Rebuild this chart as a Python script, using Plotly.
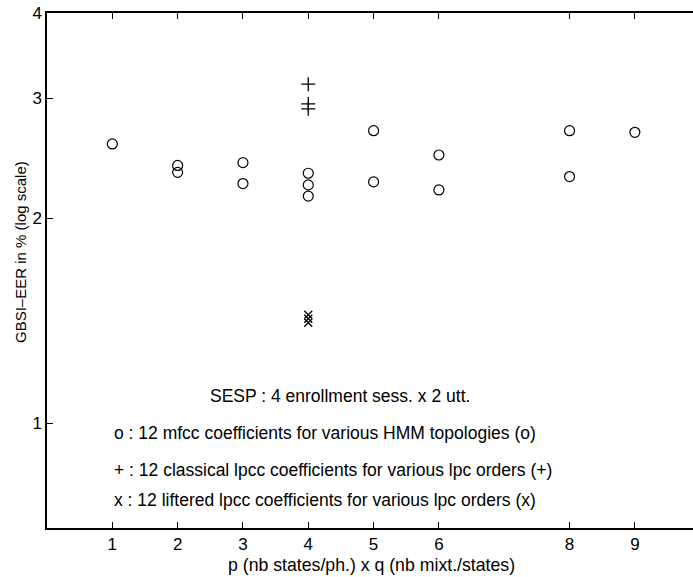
import plotly.graph_objects as go

# Data
x_mfcc = [1, 2, 2, 3, 3, 4, 4, 4, 5, 5, 6, 6, 8, 8, 9]
y_mfcc = [2.57, 2.39, 2.335, 2.413, 2.248, 2.328, 2.238, 2.155,
          2.688, 2.261, 2.476, 2.20, 2.688, 2.302, 2.673]

x_lpcc = [4, 4, 4]
y_lpcc = [3.145, 2.943, 2.894]

x_lift = [4, 4, 4]
y_lift = [1.443, 1.424, 1.405]

x_ticks = [1, 2, 3, 4, 5, 6, 8, 9]
y_ticks = [1, 2, 3, 4]

FONT = "Liberation Sans, Arial, Helvetica, sans-serif"
FS = 17.5

fig = go.Figure()
fig.add_trace(go.Scatter(x=x_mfcc, y=y_mfcc, mode="markers", name="mfcc",
                         marker=dict(symbol="circle-open", size=10, color="black",
                                     line=dict(width=1.2, color="black"))))
fig.add_trace(go.Scatter(x=x_lpcc, y=y_lpcc, mode="markers", name="lpcc",
                         marker=dict(symbol="cross-thin", size=10, color="black",
                                     line=dict(width=1.3, color="black"))))
fig.add_trace(go.Scatter(x=x_lift, y=y_lift, mode="markers", name="liftered lpcc",
                         marker=dict(symbol="x-thin", size=8, color="black",
                                     line=dict(width=1.3, color="black"))))

notes = [
    (2.47, 0.0395, "SESP : 4 enrollment sess. x 2 utt."),
    (0.99, -0.0146, "o : 12 mfcc coefficients for various HMM topologies (o)"),
    (0.99, -0.0687, "+ : 12 classical lpcc coefficients for various lpc orders (+)"),
    (0.99, -0.1126, "x : 12 liftered lpcc coefficients for various lpc orders (x)"),
]
for nx, ny, t in notes:
    fig.add_annotation(x=nx, y=ny, xref="x", yref="y", text=t, showarrow=False,
                       xanchor="left", yanchor="middle",
                       font=dict(family=FONT, size=FS, color="black"))

fig.add_annotation(x=-0.0402, y=0.536, xref="paper", yref="paper",
                   text="GBSI\u2013EER in % (log scale)", textangle=-90,
                   showarrow=False, xanchor="center", yanchor="middle",
                   font=dict(family=FONT, size=15, color="black"))
fig.add_annotation(x=0.503, y=-0.0718, xref="paper", yref="paper",
                   text="p (nb states/ph.) x q (nb mixt./states)",
                   showarrow=False, xanchor="center", yanchor="middle",
                   font=dict(family=FONT, size=17.7, color="black"))

fig.update_layout(
    width=693, height=577,
    margin=dict(l=47, r=0, t=13, b=49),
    paper_bgcolor="white", plot_bgcolor="white",
    showlegend=False,
    font=dict(family=FONT, size=17, color="black"),
    xaxis=dict(range=[0, 9.89], tickvals=x_ticks, ticktext=[str(v) for v in x_ticks],
               ticks="inside", ticklen=6, tickcolor="black", tickwidth=1,
               showline=True, linecolor="black", linewidth=1.5, mirror="ticks",
               showgrid=False, zeroline=False),
    yaxis=dict(type="log", range=[-0.1535, 0.60206], tickvals=y_ticks,
               ticktext=[str(v) for v in y_ticks],
               ticks="inside", ticklen=6, tickcolor="black", tickwidth=1,
               showline=True, linecolor="black", linewidth=1.5,
               showgrid=False, zeroline=False),
)

fig.write_html("out.html")
